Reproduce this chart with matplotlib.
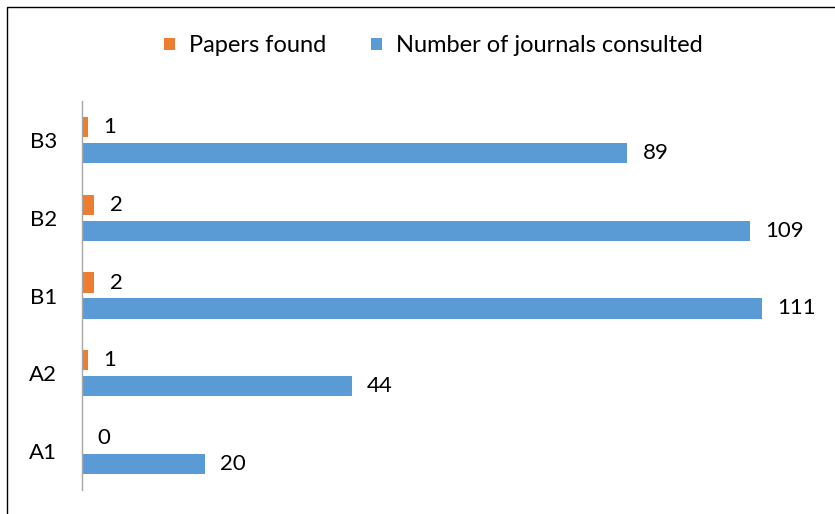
# Horizontal grouped bars: papers found vs journals consulted per Qualis stratum
import matplotlib.pyplot as plt
from matplotlib.patches import Rectangle
import numpy as np

categories = ['A1', 'A2', 'B1', 'B2', 'B3']
papers_found = [0, 1, 2, 2, 1]
journals_consulted = [20, 44, 111, 109, 89]

orange = '#ED7D31'
blue = '#5B9BD5'

plt.rcParams['font.family'] = ['Lato', 'DejaVu Sans']

fig = plt.figure(figsize=(8.35, 5.14), dpi=100)
ax = fig.add_axes([82 / 835, 24 / 514, 735 / 835, 389 / 514])

y = np.arange(len(categories))
h = 0.26
off = 0.167
b1 = ax.barh(y + off, papers_found, height=h, color=orange, label='Papers found')
b2 = ax.barh(y - off, journals_consulted, height=h, color=blue,
             label='Number of journals consulted')

for bars in (b1, b2):
    for rect in bars:
        w = rect.get_width()
        ax.annotate(str(int(w)), (w, rect.get_y() + rect.get_height() / 2),
                    xytext=(11, 0), textcoords='offset points',
                    ha='left', va='center', fontsize=16)

ax.set_xlim(0, 120)
ax.set_ylim(-0.5, 4.5)
ax.set_yticks(y)
ax.set_yticklabels(categories, fontsize=16)
ax.tick_params(axis='y', length=0, pad=18)
ax.set_xticks([])
for s in ('top', 'right', 'bottom'):
    ax.spines[s].set_visible(False)
ax.spines['left'].set_color('#A6A6A6')
ax.spines['left'].set_linewidth(1)

fig.legend(handles=[b1, b2], loc='center', bbox_to_anchor=(0.519, 1 - 46 / 514),
           ncol=2, frameon=False, fontsize=17, handlelength=0.45,
           handleheight=0.45, handletextpad=0.6, columnspacing=1.9)

fig.patches.append(Rectangle((7 / 835, -0.1), 1.5, 1.1 - 7 / 514, fill=False,
                             edgecolor='black', linewidth=1,
                             transform=fig.transFigure))

plt.savefig('out.png', dpi=100)
